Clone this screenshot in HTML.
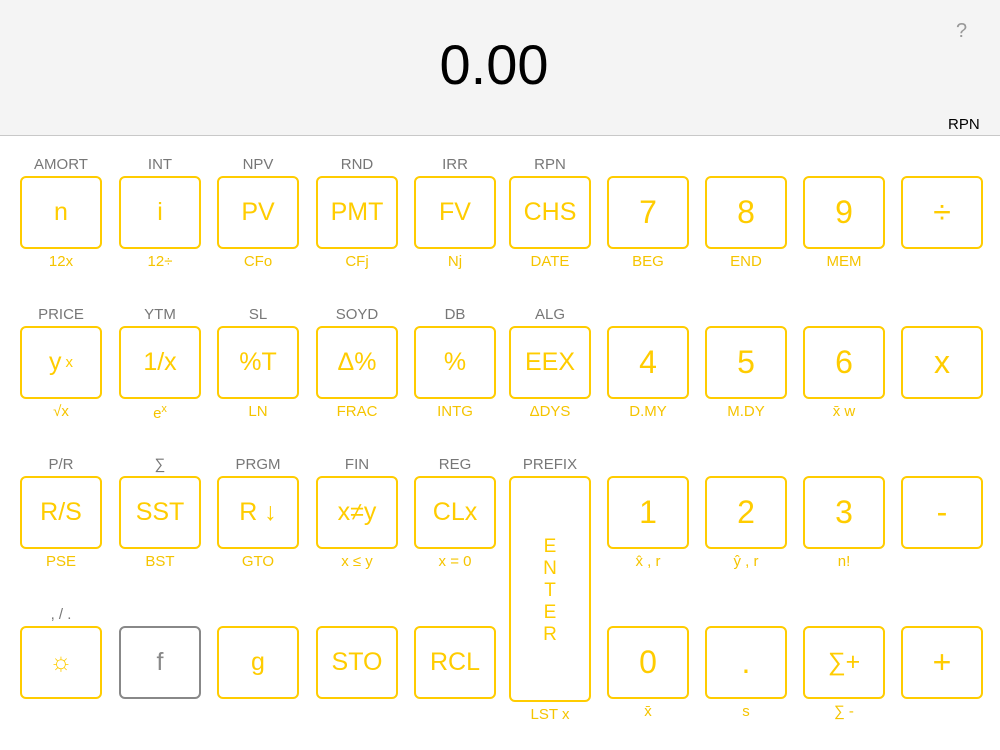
<!DOCTYPE html><html><head><style>
body{margin:0;width:1000px;height:750px;background:#fff;font-family:"Liberation Sans","DejaVu Sans",sans-serif;position:relative;overflow:hidden}
.hd{position:absolute;left:0;top:0;width:1000px;height:135px;background:#f4f4f4;border-bottom:1px solid #c8c8c8}
.b{position:absolute;width:78px;height:69px;border:2px solid #ffcc00;border-radius:6px;box-sizing:content-box;color:#ffcc00;font-size:25px;display:flex;align-items:center;justify-content:center}
.t{position:absolute;width:82px;text-align:center;font-size:15px;color:#777}
.u{position:absolute;width:82px;text-align:center;font-size:15px;color:#f5c400}
</style></head><body>
<div class="hd"></div>
<div style="position:absolute;left:0;width:1000px;top:32px;text-align:center;font-size:56px;color:#000;margin-left:-6px">0.00</div>
<div style="position:absolute;left:956px;top:20px;font-size:20px;color:#999">?</div>
<div style="position:absolute;left:948px;top:116px;font-size:15px;color:#000">RPN</div>
<div id="k"></div>
<script>
var xs=[20,119,217,316,414,509,607,705,803,901],ys=[176,326,476,626];
var R=[
[["n","AMORT","12x"],["i","INT","12÷"],["PV","NPV","CFo"],["PMT","RND","CFj"],["FV","IRR","Nj"],["CHS","RPN","DATE"],["7","","BEG"],["8","","END"],["9","","MEM"],["÷","",""]],
[["y<sup style='font-size:15px;margin-left:4px'>x</sup>","PRICE","√x"],["1/x","YTM","e<sup style='font-size:11px'>x</sup>"],["%T","SL","LN"],["Δ%","SOYD","FRAC"],["%","DB","INTG"],["EEX","ALG","ΔDYS"],["4","","D.MY"],["5","","M.DY"],["6","","x̄ w"],["x","",""]],
[["R/S","P/R","PSE"],["SST","∑","BST"],["R ↓","PRGM","GTO"],["x≠y","FIN","x ≤ y"],["CLx","REG","x = 0"],null,["1","","x̂ , r"],["2","","ŷ , r"],["3","","n!"],["-","",""]],
[["☼",", / .",""],["f","",""],["g","",""],["STO","",""],["RCL","",""],null,["0","","x̄"],[".","","s"],["∑+","","∑ -"],["+","",""]]];
var h="";
R.forEach(function(r,i){r.forEach(function(c,j){if(!c)return;var x=xs[j],y=ys[i];
var big=((j>=6&&j<=8)||j==9)&&c[0]!="∑+";var fs=big?32:25;var st="left:"+x+"px;top:"+y+"px;font-size:"+fs+"px;";
if(i==3&&j==1)st+="border-color:#888;color:#888;";
h+='<div class="b" style="'+st+'">'+c[0]+'</div>';
if(c[1])h+='<div class="t" style="left:'+x+'px;top:'+(y-20)+'px">'+c[1]+'</div>';
if(c[2])h+='<div class="u" style="left:'+x+'px;top:'+(y+77)+'px">'+c[2]+'</div>';});});
h+='<div class="b" style="left:509px;top:476px;height:222px;font-size:19px;line-height:22px;text-align:center;flex-direction:column"><div style="margin-top:4px">E<br>N<br>T<br>E<br>R</div></div>';
h+='<div class="t" style="left:509px;top:456px">PREFIX</div><div class="u" style="left:509px;top:706px">LST x</div>';
document.getElementById("k").innerHTML=h;
</script>
</body></html>
